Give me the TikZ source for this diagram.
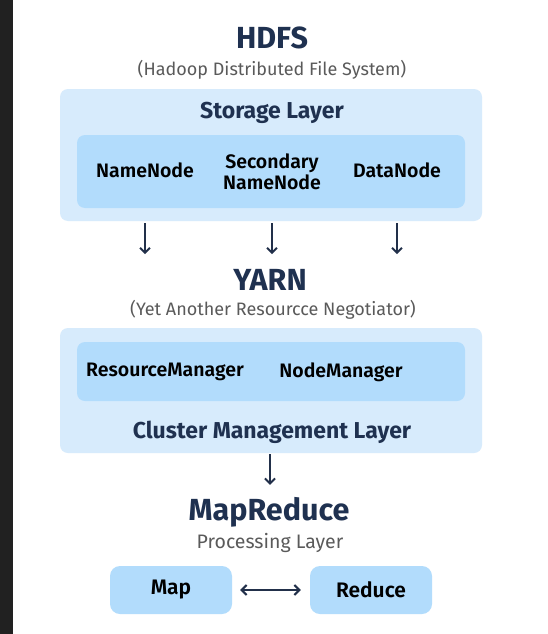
\documentclass[tikz,border=0pt]{standalone}
\usepackage{fontspec}
\setmainfont{Fira Sans}
\newfontfamily\semibold{Fira Sans SemiBold}
\usetikzlibrary{arrows.meta}
\definecolor{navy}{HTML}{1F3150}
\definecolor{subgray}{HTML}{5A5A5A}
\definecolor{outerblue}{HTML}{D7EBFC}
\definecolor{innerblue}{HTML}{B2DCFC}
\definecolor{arrownavy}{HTML}{22304A}
\begin{document}
\begin{tikzpicture}[
        x=1pt, y=-1pt,
        outer/.style={fill=outerblue, rounded corners=8pt, minimum width=422pt, inner sep=0pt},
        inner/.style={fill=innerblue, rounded corners=8pt, minimum width=388pt, inner sep=0pt},
        task/.style={fill=innerblue, rounded corners=10pt, minimum width=122pt, minimum height=48pt, inner sep=0pt,
            font=\fontsize{21}{24}\selectfont\semibold, text=black},
        title/.style={font=\fontsize{30.5}{34}\selectfont\bfseries, text=navy, inner sep=0pt},
        sub/.style={font=\fontsize{18}{21}\selectfont, text=subgray, inner sep=0pt},
        layer/.style={font=\fontsize{23}{26}\selectfont\bfseries, text=navy, inner sep=0pt},
        lbl/.style={font=\fontsize{19.5}{21}\selectfont\semibold, text=black, inner sep=0pt, align=center},
        arr/.style={draw=arrownavy, line width=2pt, -{Straight Barb[length=5pt,width=10pt]}}
    ]
    % Page
    \useasboundingbox (0,0) rectangle (547,634);
    \fill[white] (0,0) rectangle (547,634);
    \fill[black!87] (0,0) rectangle (13,634);

    % HDFS
    \node[title] (hdfs) at (272,38) {HDFS};
    \node[sub] (hdfssub) at (272,70) {(Hadoop Distributed File System)};
    \node[outer, minimum height=132pt] (hdfsbox) at (271,155) {};
    \node[layer] (storage) at (272,113) {Storage Layer};
    \node[inner, minimum height=73pt] (hdfsin) at (271,171.5) {};
    \node[lbl] (namenode) at (145,170) {NameNode};
    \node[lbl] (secondary) at (272,172) {Secondary\\NameNode};
    \node[lbl] (datanode) at (397,170) {DataNode};

    % YARN
    \node[title] (yarn) at (270,280) {YARN};
    \node[sub] (yarnsub) at (273,310) {(Yet Another Resourcce Negotiator)};
    \node[outer, minimum height=125pt] (yarnbox) at (271,390.5) {};
    \node[inner, minimum height=59pt] (yarnin) at (271,371.5) {};
    \node[lbl] (resman) at (165,372) {ResourceManager};
    \node[lbl] (nodeman) at (341,372) {NodeManager};
    \node[layer] (cluster) at (272,432) {Cluster Management Layer};

    % MapReduce
    \node[title] (mapreduce) at (269,512) {MapReduce};
    \node[sub, font=\fontsize{19.5}{22}\selectfont] (processing) at (270,543) {Processing Layer};
    \node[task] (map) at (171,590) {Map};
    \node[task] (reduce) at (371,590) {Reduce};

    % Arrows
    \foreach \n in {namenode, secondary, datanode}
        \draw[arr, shorten <=2pt, shorten >=15pt] (hdfsbox.south -| \n) -- (yarn.north -| \n);
    \draw[arr, shorten <=1pt, shorten >=12pt] (yarnbox.south -| yarn) -- (mapreduce.north -| yarn);
    \draw[arr, {Straight Barb[length=5pt,width=10pt]}-{Straight Barb[length=5pt,width=10pt]}, shorten <=8pt, shorten >=9pt] (map) -- (reduce);
\end{tikzpicture}
\end{document}
